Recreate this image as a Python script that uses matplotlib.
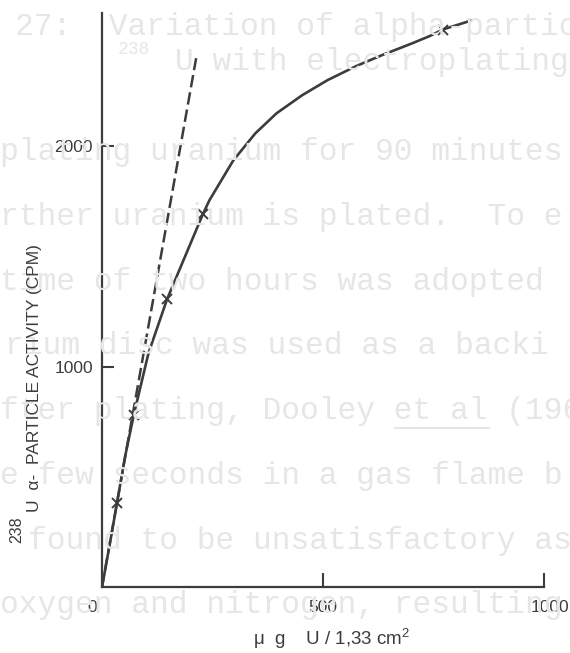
import matplotlib
matplotlib.use("Agg")
import matplotlib.pyplot as plt
import matplotlib.transforms as mtransforms

# measured points (ug U / 1.33 cm2, cpm)
marker_x = [34, 72, 147, 228, 771]
marker_y = [382, 782, 1305, 1691, 2530]

curve_x = [0, 15, 34, 52, 72, 105, 147, 190, 228, 243, 297, 347, 395, 453,
           510, 576, 635, 700, 741, 771, 834]
curve_y = [0, 165, 382, 590, 782, 1060, 1305, 1510, 1691, 1755, 1936, 2059,
           2150, 2232, 2300, 2365, 2415, 2466, 2500, 2530, 2570]

# initial slope (dashed)
slope_x = [0, 213]
slope_y = [0, 2400]

xticks = [0, 500, 1000]
xtick_labels = ["0", "500", "1000"]
yticks = [1000, 2000]
ytick_labels = ["1000", "2000"]

# faint text showing through the page
bg_lines = [
    (15, 27, "27:  Variation of alpha-partic"),
    (175, 62, "U with electroplating"),
    (0, 152, "plating uranium for 90 minutes"),
    (0, 217, "rther uranium is plated.  To e"),
    (0, 282, "time of two hours was adopted"),
    (5, 346, "rium disc was used as a backi"),
    (0, 411, "fter plating, Dooley et al (196"),
    (0, 476, "e few seconds in a gas flame b"),
    (28, 541, "found to be unsatisfactory as"),
    (0, 605, "oxygen and nitrogen, resulting"),
]

W, H = 570, 653
ink = "#3c3c3c"
faint = "#e6e6e6"

plt.rcParams["font.family"] = ["Liberation Sans", "DejaVu Sans"]
plt.rcParams["mathtext.default"] = "regular"

fig = plt.figure(figsize=(W / 100, H / 100), dpi=100)
fig.patch.set_facecolor("white")

for px, py, s in bg_lines:
    fig.text(px / W, 1 - py / H, s, family="Liberation Mono", fontsize=22.5,
             color=faint, ha="left", va="center", zorder=0)
fig.text(118 / W, 1 - 50 / H, "238", family="Liberation Mono", fontsize=13,
         color=faint, ha="left", va="center", zorder=0)
fig.add_artist(plt.Line2D([395 / W, 489 / W], [1 - 428 / H, 1 - 428 / H],
                          color=faint, lw=1.5, zorder=0))

ax = fig.add_axes([102 / W, 66 / H, 442 / W, 574 / H])
ax.patch.set_alpha(0)

ax.plot(slope_x, slope_y, color=ink, lw=1.8, linestyle=(0, (5, 2)))
ax.plot(curve_x, curve_y, color=ink, lw=1.9)
ax.plot(marker_x, marker_y, linestyle="none", marker="x", markersize=6.5,
        mew=1.4, color=ink)

ax.set_xlim(0, 1000)
ax.set_ylim(0, 2605)
for side in ["top", "right"]:
    ax.spines[side].set_visible(False)
for side in ["left", "bottom"]:
    ax.spines[side].set_color(ink)
    ax.spines[side].set_linewidth(1.6)

ax.set_xticks(xticks)
ax.set_xticklabels(xtick_labels)
ax.set_yticks(yticks)
ax.set_yticklabels(ytick_labels)
ax.tick_params(axis="x", direction="in", length=10, width=1.5, color=ink,
               pad=9, labelsize=12.5, labelcolor=ink)
ax.tick_params(axis="y", direction="in", length=8.5, width=1.5, color=ink,
               pad=6.5, labelsize=12.5, labelcolor=ink)
ax.xaxis.get_major_ticks()[0].tick1line.set_visible(False)

labels = ax.get_xticklabels()
labels[0].set_transform(labels[0].get_transform() +
                        mtransforms.ScaledTranslation(-10 / 100, 0, fig.dpi_scale_trans))
labels[2].set_transform(labels[2].get_transform() +
                        mtransforms.ScaledTranslation(6 / 100, 0, fig.dpi_scale_trans))

# y axis title: raised mass number, then the rest
fig.text(17 / W, 1 - 530 / H, "238", rotation=90, ha="center", va="center",
         fontsize=11.5, color=ink)
fig.text(35 / W, 1 - 512 / H, "U  α-  PARTICLE ACTIVITY (CPM)",
         rotation=90, ha="center", va="bottom", fontsize=12.5, color=ink)
fig.text(332 / W, 1 - 639 / H, r"μ  g    U / 1,33 cm$^2$",
         ha="center", va="center", fontsize=13.5, color=ink)

fig.savefig("out.png", dpi=100, facecolor="white")
